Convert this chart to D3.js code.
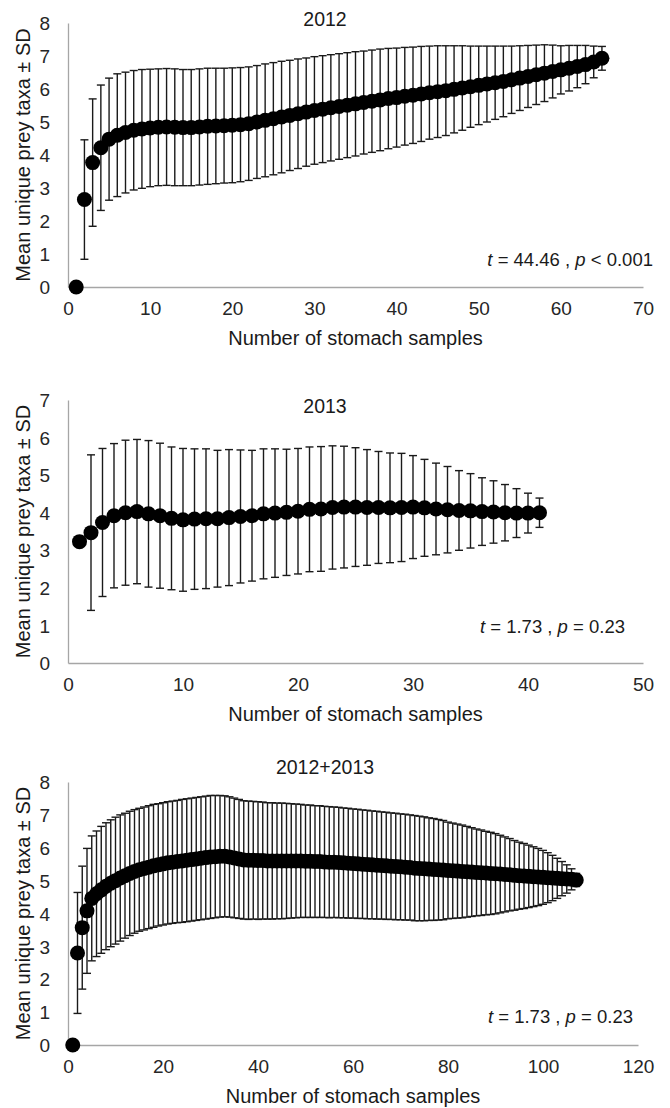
<!DOCTYPE html>
<html>
<head>
<meta charset="utf-8">
<script src="https://cdn.jsdelivr.net/npm/d3@7"></script>
<style>
    body { margin: 0; background: #fff; }
    svg { display: block; font-family: "Liberation Sans", Arial, sans-serif; }
</style>
</head>
<body>
<div id="diagram"></div>
<script>
// Mean unique prey taxa (and SD) vs number of stomach samples
const mean2012 = [0, 2.65, 3.77, 4.22, 4.48, 4.6, 4.68, 4.75, 4.79, 4.82,
    4.84, 4.85, 4.84, 4.83, 4.83, 4.85, 4.87, 4.88, 4.89, 4.9,
    4.92, 4.95, 5.0, 5.05, 5.1, 5.15, 5.2, 5.25, 5.3, 5.35,
    5.39, 5.43, 5.47, 5.51, 5.55, 5.59, 5.63, 5.67, 5.71, 5.74,
    5.78, 5.81, 5.85, 5.89, 5.92, 5.95, 5.99, 6.03, 6.07, 6.11,
    6.15, 6.19, 6.23, 6.28, 6.33, 6.38, 6.43, 6.48, 6.53, 6.58,
    6.63, 6.68, 6.74, 6.82, 6.93];
const sd2012 = [0, 1.81, 1.93, 1.9, 1.85, 1.86, 1.83, 1.81, 1.8, 1.78,
    1.77, 1.77, 1.77, 1.76, 1.76, 1.76, 1.76, 1.75, 1.74, 1.74,
    1.73, 1.72, 1.71, 1.71, 1.7, 1.69, 1.67, 1.66, 1.64, 1.63,
    1.62, 1.61, 1.6, 1.59, 1.58, 1.56, 1.55, 1.54, 1.52, 1.5,
    1.48, 1.46, 1.44, 1.41, 1.39, 1.36, 1.32, 1.28, 1.23, 1.19,
    1.15, 1.11, 1.07, 1.02, 0.98, 0.94, 0.9, 0.86, 0.8, 0.73,
    0.69, 0.64, 0.58, 0.48, 0.36];

const mean2013 = [3.23, 3.47, 3.74, 3.92, 4.0, 4.03, 3.97, 3.92, 3.85, 3.81,
    3.83, 3.84, 3.84, 3.87, 3.9, 3.92, 3.97, 3.99, 4.01, 4.04,
    4.09, 4.1, 4.14, 4.15, 4.15, 4.14, 4.14, 4.13, 4.14, 4.15,
    4.13, 4.1, 4.08, 4.06, 4.05, 4.03, 4.02, 4.0, 3.99, 3.99,
    4.0];
const sd2013 = [0, 2.07, 1.97, 1.92, 1.93, 1.92, 1.95, 1.93, 1.9, 1.9,
    1.87, 1.86, 1.82, 1.81, 1.77, 1.74, 1.73, 1.71, 1.68, 1.67,
    1.66, 1.66, 1.64, 1.62, 1.58, 1.54, 1.49, 1.46, 1.44, 1.37,
    1.29, 1.22, 1.15, 1.06, 0.99, 0.9, 0.83, 0.75, 0.65, 0.53,
    0.39];

const meanBoth = [0, 2.8, 3.57, 4.08, 4.46, 4.6, 4.72, 4.83, 4.92, 5.0,
    5.08, 5.15, 5.22, 5.28, 5.33, 5.37, 5.41, 5.45, 5.48, 5.51,
    5.54, 5.56, 5.58, 5.6, 5.62, 5.64, 5.66, 5.68, 5.7, 5.72,
    5.73, 5.74, 5.74, 5.72, 5.69, 5.66, 5.63, 5.62, 5.62, 5.61,
    5.61, 5.6, 5.6, 5.6, 5.6, 5.6, 5.6, 5.6, 5.6, 5.59,
    5.59, 5.58, 5.58, 5.57, 5.56, 5.56, 5.55, 5.54, 5.53, 5.52,
    5.51, 5.5, 5.49, 5.48, 5.47, 5.46, 5.45, 5.44, 5.43, 5.42,
    5.41, 5.4, 5.38, 5.37, 5.36, 5.35, 5.34, 5.33, 5.32, 5.31,
    5.3, 5.29, 5.28, 5.27, 5.26, 5.25, 5.24, 5.23, 5.22, 5.21,
    5.2, 5.19, 5.18, 5.16, 5.15, 5.14, 5.13, 5.12, 5.11, 5.1,
    5.09, 5.08, 5.07, 5.06, 5.05, 5.04, 5.02];
const sdBoth = [0, 1.84, 1.87, 1.9, 1.9, 1.91, 1.93, 1.93, 1.93, 1.93,
    1.92, 1.9, 1.89, 1.88, 1.87, 1.87, 1.87, 1.87, 1.86, 1.86,
    1.86, 1.86, 1.86, 1.87, 1.87, 1.87, 1.87, 1.87, 1.87, 1.87,
    1.86, 1.85, 1.84, 1.83, 1.82, 1.81, 1.8, 1.8, 1.79, 1.79,
    1.78, 1.77, 1.77, 1.76, 1.76, 1.75, 1.74, 1.73, 1.72, 1.71,
    1.71, 1.7, 1.7, 1.69, 1.69, 1.68, 1.68, 1.67, 1.67, 1.66,
    1.66, 1.65, 1.65, 1.64, 1.64, 1.63, 1.63, 1.62, 1.62, 1.61,
    1.61, 1.6, 1.6, 1.59, 1.58, 1.56, 1.55, 1.53, 1.51, 1.47,
    1.45, 1.43, 1.41, 1.38, 1.35, 1.32, 1.3, 1.27, 1.25, 1.22,
    1.18, 1.14, 1.1, 1.06, 1.02, 0.99, 0.95, 0.91, 0.87, 0.82,
    0.76, 0.69, 0.61, 0.52, 0.43, 0.32, 0.2];

const titles = ["2012", "2013", "2012+2013"];
const xMaxes = [70, 50, 120];
const xTickSteps = [10, 10, 20];
const yMaxes = [8, 7, 8];
const statT = ["44.46", "1.73", "1.73"];
const statP = ["< 0.001", "= 0.23", "= 0.23"];

const width = 670, height = 1108;

// pixel frame of each panel
const frames = [
    {left: 68, right: 643, top: 23, bottom: 287, titleY: 26, statX: 653, statY: 266},
    {left: 68, right: 643, top: 400, bottom: 663, titleY: 413, statX: 625, statY: 633},
    {left: 68, right: 638, top: 782, bottom: 1045, titleY: 774, statX: 633, statY: 1023}
];

const svg = d3.select("#diagram")
    .append("svg")
    .attr("width", width)
    .attr("height", height);

const series = [[mean2012, sd2012], [mean2013, sd2013], [meanBoth, sdBoth]];

series.forEach(([means, sds], k) => {
    const f = frames[k];
    const data = means.map((m, i) => ({n: i + 1, mean: m, sd: sds[i]}));

    const x = d3.scaleLinear().domain([0, xMaxes[k]]).range([f.left, f.right]);
    const y = d3.scaleLinear().domain([0, yMaxes[k]]).range([f.bottom, f.top]);

    const g = svg.append("g");

    // axes: plain grey lines, no tick marks
    const xAxis = g.append("g")
        .attr("transform", `translate(0,${f.bottom})`)
        .call(d3.axisBottom(x).tickValues(d3.range(0, xMaxes[k] + 1, xTickSteps[k])).tickSize(0).tickPadding(15));
    const yAxis = g.append("g")
        .attr("transform", `translate(${f.left},0)`)
        .call(d3.axisLeft(y).ticks(yMaxes[k]).tickSize(0).tickPadding(18));
    [xAxis, yAxis].forEach(a => {
        a.select(".domain").attr("stroke", "#a6a6a6").attr("stroke-width", 1.3);
        a.selectAll("text")
            .attr("fill", "#262626")
            .style("font-size", "19px")
            .style("font-family", "Liberation Sans, Arial, sans-serif");
    });
    xAxis.selectAll("text").attr("dy", "0.71em");
    yAxis.selectAll("text").attr("dy", "0.35em");

    // error bars
    const bars = g.append("g")
        .attr("stroke", "#1a1a1a")
        .attr("stroke-width", 1.4)
        .selectAll("g")
        .data(data.filter(d => d.sd > 0))
        .join("g");
    bars.append("line")
        .attr("x1", d => x(d.n)).attr("x2", d => x(d.n))
        .attr("y1", d => y(d.mean - d.sd)).attr("y2", d => y(d.mean + d.sd));
    bars.append("line")
        .attr("x1", d => x(d.n) - 4).attr("x2", d => x(d.n) + 4)
        .attr("y1", d => y(d.mean + d.sd)).attr("y2", d => y(d.mean + d.sd));
    bars.append("line")
        .attr("x1", d => x(d.n) - 4).attr("x2", d => x(d.n) + 4)
        .attr("y1", d => y(d.mean - d.sd)).attr("y2", d => y(d.mean - d.sd));

    // mean points
    g.append("g")
        .attr("fill", "#000")
        .selectAll("circle")
        .data(data)
        .join("circle")
        .attr("cx", d => x(d.n))
        .attr("cy", d => y(d.mean))
        .attr("r", 7.5);

    // title
    g.append("text")
        .attr("x", 325)
        .attr("y", f.titleY)
        .attr("text-anchor", "middle")
        .attr("fill", "#1a1a1a")
        .style("font-size", "19.5px")
        .text(titles[k]);

    // axis titles
    g.append("text")
        .attr("x", (f.left + f.right) / 2)
        .attr("y", f.bottom + 58)
        .attr("text-anchor", "middle")
        .attr("fill", "#1a1a1a")
        .style("font-size", "20px")
        .text("Number of stomach samples");
    g.append("text")
        .attr("transform", `translate(30,${(f.top + f.bottom) / 2}) rotate(-90)`)
        .attr("text-anchor", "middle")
        .attr("fill", "#1a1a1a")
        .style("font-size", "20px")
        .text("Mean unique prey taxa \u00b1 SD");

    // test statistic
    const stat = g.append("text")
        .attr("x", f.statX)
        .attr("y", f.statY)
        .attr("text-anchor", "end")
        .attr("fill", "#1a1a1a")
        .style("font-size", "18.5px");
    stat.append("tspan").style("font-style", "italic").text("t");
    stat.append("tspan").text(` = ${statT[k]} , `);
    stat.append("tspan").style("font-style", "italic").text("p");
    stat.append("tspan").text(` ${statP[k]}`);
});
</script>
</body>
</html>
